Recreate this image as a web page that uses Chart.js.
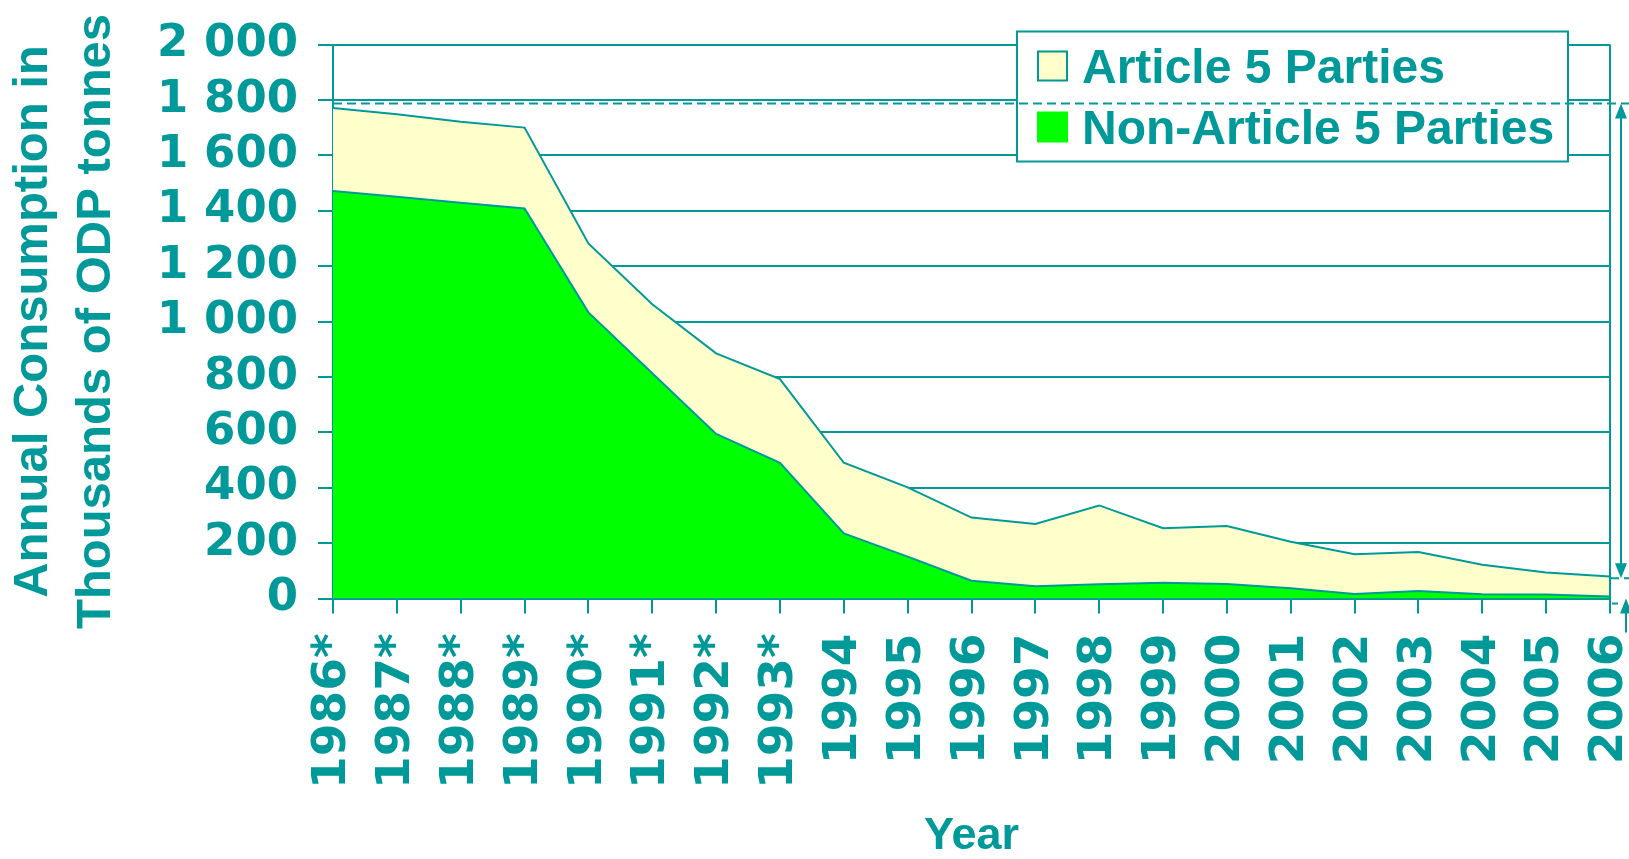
<!DOCTYPE html>
<html>
<head>
<meta charset="utf-8">
<title>Annual ODS consumption</title>
<script src="https://cdn.jsdelivr.net/npm/chart.js@4.4.1/dist/chart.umd.min.js"></script>
<style>
  html, body { margin: 0; padding: 0; background: #ffffff; }
  #wrap { position: relative; width: 1629px; height: 859px; }
</style>
</head>
<body>
<div id="wrap"><canvas id="chart"></canvas></div>
<script>
// Years on the category axis (asterisk = base-year estimates)
const years = ['1986*', '1987*', '1988*', '1989*', '1990*', '1991*', '1992*', '1993*',
  '1994', '1995', '1996', '1997', '1998', '1999', '2000', '2001', '2002', '2003',
  '2004', '2005', '2006'];

// Consumption, thousands of ODP tonnes
const nonArticle5 = [1471, 1450, 1429, 1408, 1033, 813, 594, 490, 235, 151, 64, 44,
  51, 57, 52, 37, 16, 27, 15, 14, 7];
const article5 = [300, 298, 292, 292, 249, 249, 291, 302, 255, 250, 228, 225,
  285, 197, 210, 168, 144, 141, 107, 80, 72];

// Value axis
const yMin = 0;
const yMax = 2000;
const yStep = 200;

// Reference levels marked on the right-hand side
const startLevel = 1787;
const endLevel = 73;

const TEAL = '#009999';
const YELLOW = '#FFFFCC';
const GREEN = '#00FF00';

function spaced(v) {
  return String(v).replace(/\B(?=(\d{3})+(?!\d))/g, ' ');
}

// Legend box, right-hand frame line and the dashed range marker
const marksPlugin = {
  id: 'marks',
  afterDraw(chart) {
    const ctx = chart.ctx;
    const a = chart.chartArea;
    const y = chart.scales.y;
    const W = chart.width;
    const seg = (x1, y1, x2, y2) => { ctx.beginPath(); ctx.moveTo(x1, y1); ctx.lineTo(x2, y2); ctx.stroke(); };
    const head = (x, yt, dir) => {
      ctx.beginPath();
      ctx.moveTo(x, yt);
      ctx.lineTo(x - 6, yt - dir * 15);
      ctx.lineTo(x + 6, yt - dir * 15);
      ctx.closePath();
      ctx.fill();
    };
    ctx.save();
    ctx.strokeStyle = TEAL;
    ctx.fillStyle = TEAL;
    ctx.lineWidth = 2;

    // frame on the right of the plot
    seg(a.right, a.top, a.right, a.bottom);

    // legend
    const bx = a.right - 593, by = a.top - 13, bw = 551, bh = 130;
    ctx.fillStyle = '#ffffff';
    ctx.fillRect(bx, by, bw, bh);
    ctx.strokeRect(bx, by, bw, bh);
    ctx.font = 'bold 48px "Liberation Sans", Arial, sans-serif';
    ctx.textAlign = 'left';
    ctx.textBaseline = 'alphabetic';
    const items = chart.data.datasets.slice().reverse();
    items.forEach((ds, i) => {
      const sy = by + 19 + i * 61;
      ctx.fillStyle = ds.backgroundColor;
      ctx.fillRect(bx + 20, sy, 31, 31);
      if (ds.backgroundColor === YELLOW) {
        ctx.strokeRect(bx + 21, sy + 1, 29, 29);
      }
      ctx.fillStyle = TEAL;
      ctx.fillText(ds.label, bx + 65, sy + 32);
    });

    // dashed reference levels
    const yTop = y.getPixelForValue(startLevel);
    const yLow = y.getPixelForValue(endLevel);
    ctx.setLineDash([9, 5]);
    seg(a.left, yTop, W, yTop);
    seg(a.right, yLow, W, yLow);
    ctx.setLineDash([]);

    // double arrow between the two levels
    const ax = a.right + 11;
    seg(ax, yTop + 8, ax, yLow - 8);
    head(ax, yTop, -1);
    head(ax, yLow, 1);

    // arrow rising from below the axis
    const ux = a.right + 16;
    seg(ux, a.bottom + 8, ux, a.bottom + 34);
    head(ux, a.bottom, -1);
    seg(a.right + 2, a.bottom + 5, a.right + 8, a.bottom + 5);

    ctx.restore();
  }
};

new Chart(document.getElementById('chart'), {
  type: 'line',
  data: {
    labels: years,
    datasets: [
      {
        label: 'Non-Article 5 Parties',
        data: nonArticle5,
        backgroundColor: GREEN,
        borderColor: TEAL,
        borderWidth: 2,
        fill: 'origin'
      },
      {
        label: 'Article 5 Parties',
        data: article5,
        backgroundColor: YELLOW,
        borderColor: TEAL,
        borderWidth: 2,
        fill: '-1'
      }
    ]
  },
  options: {
    responsive: true,
    maintainAspectRatio: false,
    devicePixelRatio: 1,
    animation: false,
    events: [],
    layout: { padding: { top: 44.5, right: 19, bottom: 0, left: 0 } },
    elements: {
      line: { tension: 0 },
      point: { radius: 0 }
    },
    plugins: {
      legend: { display: false },
      tooltip: { enabled: false }
    },
    scales: {
      x: {
        offset: false,
        grid: {
          display: true,
          drawOnChartArea: false,
          drawTicks: true,
          tickLength: 15,
          color: TEAL,
          lineWidth: 2
        },
        border: { display: true, color: TEAL, width: 2 },
        ticks: {
          autoSkip: false,
          minRotation: 90,
          maxRotation: 90,
          padding: 20,
          color: TEAL,
          font: { family: '"DejaVu Sans", Verdana, sans-serif', weight: 'bold', size: 47, lineHeight: 1 }
        },
        title: {
          display: true,
          text: 'Year',
          color: TEAL,
          padding: { top: 0, bottom: 0 },
          font: { family: '"Liberation Sans", Arial, sans-serif', weight: 'bold', size: 45, lineHeight: 1 }
        },
        afterFit(scale) {
          scale.height = 260.5;
          scale.paddingLeft = 0;
          scale.paddingRight = 0;
        }
      },
      y: {
        stacked: true,
        min: yMin,
        max: yMax,
        grid: {
          color: TEAL,
          lineWidth: 2,
          tickLength: 15,
          drawTicks: true
        },
        border: { display: true, color: TEAL, width: 2 },
        ticks: {
          stepSize: yStep,
          autoSkip: false,
          padding: 20,
          color: TEAL,
          font: { family: '"DejaVu Sans", Verdana, sans-serif', weight: 'bold', size: 45, lineHeight: 1 },
          callback: (v) => spaced(v)
        },
        title: {
          display: true,
          text: ['Annual Consumption in', 'Thousands of ODP tonnes'],
          color: TEAL,
          padding: { top: 2, bottom: 0 },
          font: { family: '"Liberation Sans", Arial, sans-serif', weight: 'bold', size: 49, lineHeight: 1.29 }
        },
        afterFit(scale) { scale.width = 333; }
      }
    }
  },
  plugins: [marksPlugin]
});
</script>
</body>
</html>
